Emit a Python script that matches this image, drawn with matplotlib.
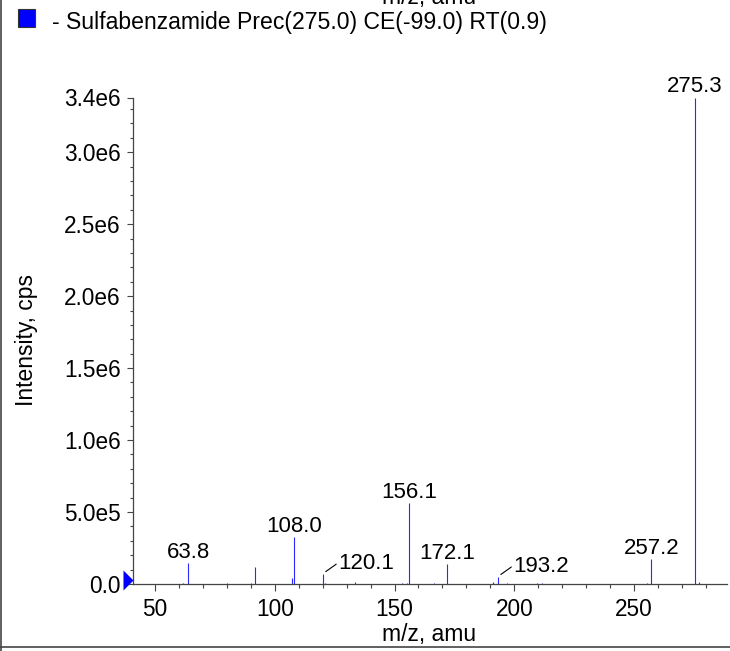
import matplotlib
matplotlib.use('Agg')
import matplotlib.pyplot as plt
from matplotlib.ticker import FixedLocator, FixedFormatter, MultipleLocator
from matplotlib.lines import Line2D
from matplotlib.patches import Rectangle
from matplotlib.path import Path

plt.rcParams['font.family'] = ['Liberation Sans', 'DejaVu Sans']

# ---- data ----
mz = [61.8, 63.8, 80.0, 90.0, 91.9, 107.1, 108.0, 120.1, 121.0, 133.5,
      153.1, 155.1, 156.1, 166.5, 172.1, 191.3, 193.2, 197.1, 209.4, 211.5,
      255.3, 257.2, 275.3, 277.1]
intensity = [1.0e4, 1.46e5, 7e3, 8e3, 1.17e5, 4.2e4, 3.3e5, 7.2e4, 1.0e4, 1.3e4,
             7e3, 9e3, 5.65e5, 7e3, 1.4e5, 1.2e4, 5.2e4, 6e3, 6e3, 6e3,
             8e3, 1.77e5, 3.38e6, 1.4e4]
label_mz = [63.8, 108.0, 120.1, 156.1, 172.1, 193.2, 257.2, 275.3]
label_text = ['63.8', '108.0', '120.1', '156.1', '172.1', '193.2', '257.2', '275.3']
leader = [False, False, True, False, False, True, False, False]

ytick_vals = [0, 5e5, 1e6, 1.5e6, 2e6, 2.5e6, 3e6, 3.38e6]
ytick_labels = ['0.0', '5.0e5', '1.0e6', '1.5e6', '2.0e6', '2.5e6', '3.0e6', '3.4e6']
xtick_vals = [50, 100, 150, 200, 250]
legend_label = '- Sulfabenzamide Prec(275.0) CE(-99.0) RT(0.9)'
xlabel = 'm/z, amu'
ylabel = 'Intensity, cps'

W, H = 730, 651
fig = plt.figure(figsize=(W / 100, H / 100), dpi=100)
ax = fig.add_axes([133 / W, 1 - 584 / H, (726.5 - 133) / W, (584 - 97.5) / H])

peak_color = '#2a2aff'
ax.vlines(mz, 0, intensity, colors=peak_color, linewidth=0.8)

ax.set_xlim(40.8, 288.6)
ax.set_ylim(0, 3.38e6)

for s in ['top', 'right']:
    ax.spines[s].set_visible(False)
for s in ['left', 'bottom']:
    ax.spines[s].set_color('#444444')
    ax.spines[s].set_linewidth(0.9)

ax.xaxis.set_major_locator(FixedLocator(xtick_vals))
ax.xaxis.set_minor_locator(MultipleLocator(10))
ax.yaxis.set_major_locator(FixedLocator(ytick_vals))
ax.yaxis.set_major_formatter(FixedFormatter(ytick_labels))
ax.yaxis.set_minor_locator(MultipleLocator(1e5))

ax.tick_params(axis='x', which='major', length=5, width=0.8, pad=5.0,
               labelsize=16.3, color='#444444')
ax.tick_params(axis='x', which='minor', length=2.6, width=0.8, color='#444444')
ax.tick_params(axis='y', which='major', length=4.3, width=0.8, pad=4.4,
               labelsize=16.3, color='#444444')
ax.tick_params(axis='y', which='minor', length=2.2, width=0.8, color='#444444')

# blue triangle marker at zero on the y axis
tri = Path([(-1, -0.6), (0, 0.4), (-1, 1.4), (-1, -0.6)],
           [Path.MOVETO, Path.LINETO, Path.LINETO, Path.CLOSEPOLY])
ax.plot([40.8], [0], marker=tri, markersize=20.2, color='#0000ff',
        markeredgewidth=0, clip_on=False, zorder=6, linestyle='none')

# peak labels
for lm, lt, ld in zip(label_mz, label_text, leader):
    h = intensity[mz.index(lm)]
    if ld:
        ax.annotate(lt, xy=(lm, h), xytext=(43.5, 4.5), textcoords='offset pixels',
                    ha='center', va='baseline', fontsize=16.0, annotation_clip=False)
        ax.annotate('', xy=(lm, h), xytext=(13.3, 9.5), textcoords='offset pixels',
                    arrowprops=dict(arrowstyle='-', color='black', lw=0.8,
                                    shrinkA=0, shrinkB=2.5),
                    annotation_clip=False)
    else:
        ax.annotate(lt, xy=(lm, h), xytext=(0, 5), textcoords='offset pixels',
                    ha='center', va='baseline', fontsize=16.0, annotation_clip=False)

# axis labels
fig.text(429 / W, 1 - 641 / H, xlabel, ha='center', va='baseline', fontsize=16.5)
fig.text(26 / W, 1 - 340.5 / H, ylabel, ha='center', va='center', rotation=90,
         fontsize=16.5)
# previous panel's x label cut at top
fig.text(429 / W, 1 - 4 / H, xlabel, ha='center', va='baseline', fontsize=16.5)

# legend
fig.add_artist(Rectangle((18 / W, 1 - 27 / H), 17 / W, 18 / H,
                         transform=fig.transFigure, facecolor='#0000ff',
                         edgecolor='#333333', linewidth=0.8))
fig.text(52 / W, 1 - 29 / H, legend_label, ha='left', va='baseline', fontsize=16.6)

# frame border
fig.add_artist(Line2D([1.5 / W, 1.5 / W], [0, 1], transform=fig.transFigure,
                      color='#444444', linewidth=1.2))
fig.add_artist(Line2D([0, 1], [1 - 646.5 / H, 1 - 646.5 / H], transform=fig.transFigure,
                      color='#444444', linewidth=1.2))

fig.savefig('out.png', dpi=100)
